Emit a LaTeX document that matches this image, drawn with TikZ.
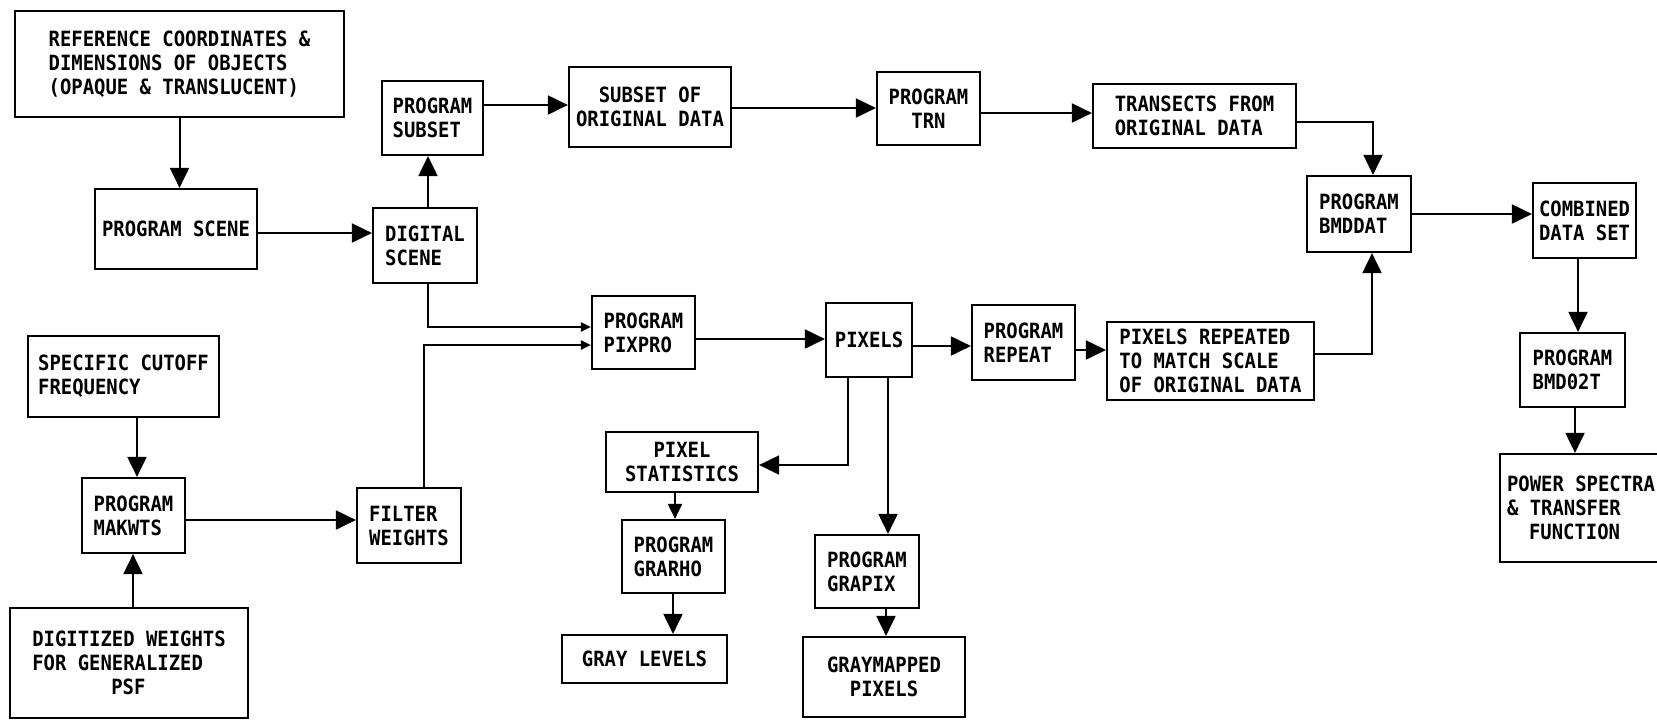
\documentclass[tikz,border=0pt]{standalone}
\usepackage{fontspec}
\newfontfamily\dfont[FakeStretch=0.9]{DejaVu Sans Mono}
\usetikzlibrary{arrows.meta}
\begin{document}
\begin{tikzpicture}[x=1pt,y=-1pt,
  box/.style={draw, line width=2.2pt, inner sep=0pt, font=\dfont\bfseries\fontsize{21}{24}\selectfont, align=left},
  arr/.style={line width=2pt, -{Triangle[length=20pt,width=19pt]}},
  arrm/.style={line width=2pt, -{Triangle[length=15pt,width=14pt]}},
  arrs/.style={line width=2pt, -{Triangle[length=10pt,width=9pt]}}]
\fill[white] (0,0) rectangle (1657,721);
\useasboundingbox (0,0) rectangle (1657,721);

\node[box, minimum width=329pt, minimum height=106pt] (ref) at (179.5,64) {REFERENCE COORDINATES \&\\DIMENSIONS OF OBJECTS\\(OPAQUE \& TRANSLUCENT)};
\node[box, minimum width=162pt, minimum height=80pt] (scene) at (176,229) {PROGRAM SCENE};
\node[box, minimum width=104pt, minimum height=75pt] (dscene) at (425,245.5) {DIGITAL\\SCENE};
\node[box, minimum width=101pt, minimum height=74pt] (subset) at (432.5,118) {PROGRAM\\SUBSET};
\node[box, minimum width=162pt, minimum height=80pt, align=center] (subsetof) at (650,107) {SUBSET OF\\ORIGINAL DATA};
\node[box, minimum width=103pt, minimum height=73pt, align=center] (trn) at (928.5,108.5) {PROGRAM\\TRN};
\node[box, minimum width=203pt, minimum height=64pt] (transects) at (1194.5,116) {TRANSECTS FROM\\ORIGINAL DATA};
\node[box, minimum width=104pt, minimum height=76pt] (bmddat) at (1359,214) {PROGRAM\\BMDDAT};
\node[box, minimum width=103pt, minimum height=75pt, align=center] (combined) at (1584.5,220.5) {COMBINED\\DATA SET};
\node[box, minimum width=105pt, minimum height=74pt] (bmd) at (1572.5,370) {PROGRAM\\BMD02T};
\node[box, minimum width=162pt, minimum height=108pt] (power) at (1581,508) {POWER SPECTRA\\\& TRANSFER\\\hspace*{22pt}FUNCTION};
\node[box, minimum width=191pt, minimum height=81pt] (cutoff) at (123.5,376.5) {SPECIFIC CUTOFF\\FREQUENCY};
\node[box, minimum width=103pt, minimum height=75pt] (makwts) at (133.5,515.5) {PROGRAM\\MAKWTS};
\node[box, minimum width=104pt, minimum height=75pt] (filter) at (409,525.5) {FILTER\\WEIGHTS};
\node[box, minimum width=238pt, minimum height=110pt] (digit) at (129,663) {DIGITIZED WEIGHTS\\FOR GENERALIZED\\\hspace*{79pt}PSF};
\node[box, minimum width=103pt, minimum height=73pt] (pixpro) at (643.5,332.5) {PROGRAM\\PIXPRO};
\node[box, minimum width=86pt, minimum height=74pt] (pixels) at (869,340) {PIXELS};
\node[box, minimum width=103pt, minimum height=75pt] (rep) at (1023.5,342.5) {PROGRAM\\REPEAT};
\node[box, minimum width=207pt, minimum height=78pt] (pixrep) at (1210.5,361) {PIXELS REPEATED\\TO MATCH SCALE\\OF ORIGINAL DATA};
\node[box, minimum width=152pt, minimum height=60pt, align=center] (stats) at (682,462) {PIXEL\\STATISTICS};
\node[box, minimum width=103pt, minimum height=73pt] (grarho) at (673.5,556.5) {PROGRAM\\GRARHO};
\node[box, minimum width=165pt, minimum height=48pt] (gray) at (644.5,659) {GRAY LEVELS};
\node[box, minimum width=104pt, minimum height=73pt] (grapix) at (867,571.5) {PROGRAM\\GRAPIX};
\node[box, minimum width=162pt, minimum height=80pt, align=center] (gmap) at (884,677) {GRAYMAPPED\\PIXELS};

\draw[arr] (ref) -- (ref |- scene.north);
\draw[arr] (scene.east |- 0,233) -- (dscene.west |- 0,233);
\draw[arr] (428,0 |- dscene.north) -- (428,0 |- subset.south);
\draw[arr] (subset.east |- 0,105) -- (subsetof.west |- 0,105);
\draw[arr] (subsetof.east |- 0,108) -- (trn.west |- 0,108);
\draw[arr] (trn.east |- 0,113) -- (transects.west |- 0,113);
\draw[arr] (transects.east |- 0,122) -| (1373,0 |- bmddat.north);
\draw[arr] (bmddat.east) -- (bmddat.east -| combined.west);
\draw[arr] (1578,0 |- combined.south) -- (1578,0 |- bmd.north);
\draw[arr] (1575,0 |- bmd.south) -- (1575,0 |- power.north);
\draw[arrs] (428,0 |- dscene.south) |- (pixpro.west |- 0,327);
\draw[arrs] (424,0 |- filter.north) |- (pixpro.west |- 0,345);
\draw[arr] (pixpro.east |- 0,339) -- (pixels.west |- 0,339);
\draw[arr] (pixels.east |- 0,346) -- (rep.west |- 0,346);
\draw[arr] (rep.east |- 0,350) -- (pixrep.west |- 0,350);
\draw[arr] (pixrep.east |- 0,354) -| (1372,0 |- bmddat.south);
\draw[arr] (848,0 |- pixels.south) |- (stats.east |- 0,465);
\draw[arr] (888,0 |- pixels.south) -- (888,0 |- grapix.north);
\draw[arrm] (675,0 |- stats.south) -- (675,0 |- grarho.north);
\draw[arr] (673,0 |- grarho.south) -- (673,0 |- gray.north);
\draw[arr] (886,0 |- grapix.south) -- (886,0 |- gmap.north);
\draw[arr] (137,0 |- cutoff.south) -- (137,0 |- makwts.north);
\draw[arr] (133,0 |- digit.north) -- (133,0 |- makwts.south);
\draw[arr] (makwts.east |- 0,520) -- (filter.west |- 0,520);
\end{tikzpicture}
\end{document}
